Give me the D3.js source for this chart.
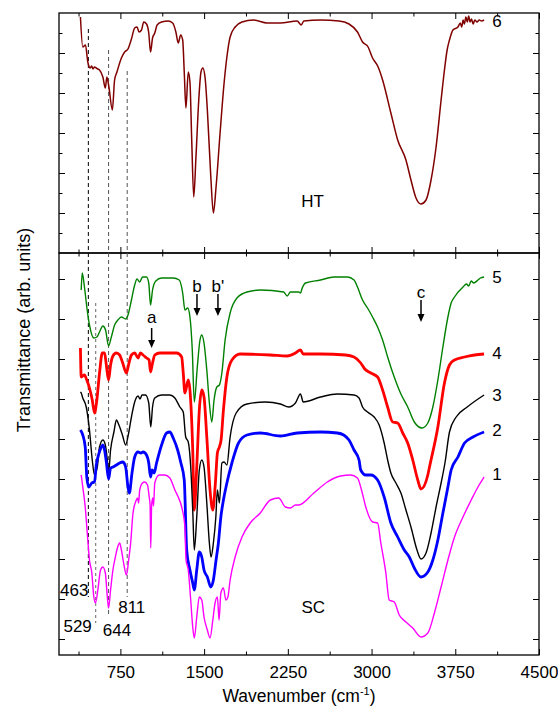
<!DOCTYPE html>
<html>
<head>
<meta charset="utf-8">
<script src="https://cdn.jsdelivr.net/npm/d3@7/dist/d3.min.js"></script>
<style>
  body { margin: 0; background: #fff; }
  text { font-family: Arial, "Liberation Sans", sans-serif; fill: #000; }
</style>
</head>
<body>
<div id="chart"></div>
<script>
// chart data: [wavenumber, transmittance (arb. units)]
// top panel (HT)
var spec6 = [[392,236],[413,206],[437,208],[458,191],[480,185],[492,187],[505,184],[518,186],[534,185],[548,184],[563,183],[593,176],[615,165],[629,176],[647,166],[678,143],[698,173],[719,181],[759,195],[788,201],[818,204],[849,214],[878,225],[899,226],[917,221],[939,223],[959,231],[984,229],[1004,220],[1020,201],[1038,215],[1058,220],[1079,228],[1119,231],[1178,232],[1218,230],[1247,221],[1268,210],[1290,218],[1308,213],[1322,181],[1337,145],[1358,181],[1373,171],[1389,113],[1407,56],[1427,96],[1452,153],[1472,181],[1488,185],[1508,176],[1529,143],[1560,76],[1583,40],[1607,66],[1643,120],[1679,170],[1704,196],[1733,216],[1778,226],[1839,231],[1943,233],[2064,230],[2183,230],[2334,232],[2370,228],[2393,232],[2543,233],[2708,232],[2798,229],[2874,221],[2919,211],[2969,206],[3009,195],[3059,186],[3099,173],[3173,140],[3234,113],[3308,93],[3353,73],[3398,55],[3443,49],[3488,53],[3533,73],[3578,106],[3623,153],[3653,183],[3677,203],[3698,213],[3729,223],[3774,226],[3795,230],[3808,226],[3820,233],[3832,229],[3845,236],[3858,231],[3870,237],[3882,231],[3895,234],[3910,229],[3925,233],[3945,231],[3965,233],[3985,232],[4008,233]];

// bottom panel (SC)
var spec5 = [[399,365],[408,382],[428,368],[449,348],[473,330],[512,317],[539,318],[563,323],[593,329],[617,325],[644,309],[669,318],[698,330],[728,335],[759,338],[797,336],[818,340],[849,355],[878,370],[899,376],[923,373],[948,378],[984,378],[1004,372],[1020,350],[1038,365],[1067,374],[1119,377],[1223,377],[1277,375],[1308,362],[1328,345],[1353,347],[1373,338],[1394,305],[1412,253],[1439,288],[1463,315],[1479,320],[1499,312],[1524,285],[1547,252],[1569,233],[1589,255],[1614,268],[1637,270],[1659,282],[1688,315],[1733,342],[1794,357],[1884,363],[2003,365],[2213,363],[2244,359],[2273,363],[2348,363],[2363,362],[2379,367],[2408,372],[2543,375],[2663,378],[2784,378],[2843,375],[2874,368],[2919,355],[2964,347],[3009,338],[3054,328],[3099,315],[3144,298],[3203,278],[3263,261],[3324,248],[3383,233],[3452,227],[3504,232],[3549,248],[3594,275],[3639,308],[3684,338],[3713,352],[3743,358],[3819,368],[3850,371],[3870,369],[3893,374],[3915,372],[3953,375],[3975,377],[4008,378]];

var spec4 = [[392,307],[399,278],[428,280],[449,275],[473,267],[498,255],[518,242],[539,255],[563,282],[588,302],[608,302],[624,290],[644,275],[662,290],[683,299],[714,302],[743,300],[768,293],[804,282],[827,292],[849,300],[878,302],[908,297],[930,302],[953,300],[984,297],[1007,295],[1020,283],[1038,292],[1058,300],[1103,302],[1254,302],[1299,298],[1313,282],[1328,262],[1358,275],[1373,265],[1398,205],[1412,145],[1434,188],[1457,245],[1479,265],[1499,258],[1524,218],[1553,165],[1578,145],[1601,172],[1619,202],[1637,208],[1652,215],[1673,245],[1704,278],[1749,295],[1823,301],[2093,300],[2244,299],[2318,302],[2363,305],[2388,301],[2543,301],[2768,300],[2843,298],[2903,292],[2939,286],[2993,282],[3054,278],[3099,265],[3144,248],[3189,233],[3234,232],[3279,222],[3324,212],[3369,195],[3414,175],[3443,166],[3504,180],[3519,188],[3594,228],[3653,272],[3698,290],[3743,295],[3833,298],[3923,300],[4008,301]];

var spec3 = [[392,263],[399,262],[413,257],[444,248],[473,225],[498,195],[518,180],[543,188],[563,208],[593,215],[615,210],[633,195],[644,182],[662,205],[692,223],[714,235],[737,230],[768,220],[797,210],[824,222],[849,238],[878,253],[908,259],[926,256],[944,260],[975,260],[1004,252],[1022,228],[1038,248],[1058,257],[1119,260],[1193,260],[1238,257],[1283,248],[1313,243],[1335,218],[1358,213],[1380,188],[1398,145],[1412,105],[1434,138],[1457,185],[1479,195],[1499,188],[1524,152],[1547,112],[1562,98],[1583,112],[1605,138],[1619,165],[1637,152],[1659,192],[1679,193],[1704,190],[1733,218],[1787,242],[1884,251],[2048,253],[2183,251],[2258,248],[2318,252],[2363,261],[2388,253],[2543,258],[2694,261],[2843,260],[2888,257],[2919,248],[2964,243],[3023,238],[3068,230],[3113,212],[3144,195],[3173,182],[3218,172],[3263,162],[3308,145],[3353,128],[3407,105],[3443,96],[3488,102],[3533,122],[3578,148],[3623,172],[3659,193],[3698,223],[3758,238],[3857,248],[4008,260]];

var spec2 = [[392,225],[413,220],[435,208],[449,178],[467,168],[494,172],[518,173],[534,190],[554,200],[579,208],[593,210],[608,205],[624,193],[644,176],[662,187],[683,188],[714,190],[743,192],[773,193],[797,188],[818,168],[830,162],[854,182],[878,198],[908,203],[932,202],[953,203],[984,200],[1004,192],[1020,178],[1034,185],[1052,182],[1074,192],[1119,210],[1164,222],[1193,223],[1223,217],[1263,205],[1292,192],[1322,175],[1344,105],[1373,85],[1398,72],[1412,65],[1434,85],[1457,103],[1479,98],[1499,85],[1529,78],[1560,68],[1583,75],[1607,95],[1628,112],[1650,138],[1673,155],[1704,172],[1749,192],[1808,212],[1884,220],[2003,222],[2183,219],[2334,222],[2543,223],[2694,222],[2750,220],[2798,215],[2843,205],[2888,195],[2903,185],[2948,180],[2993,180],[3054,175],[3113,158],[3173,132],[3234,118],[3293,105],[3338,98],[3383,87],[3443,78],[3504,83],[3549,95],[3594,115],[3639,142],[3684,168],[3713,185],[3774,198],[3833,212],[3909,218],[4008,223]];

var spec1 = [[399,180],[413,168],[435,148],[453,122],[458,115],[473,95],[494,82],[512,58],[527,52],[548,65],[572,85],[593,88],[615,82],[633,58],[644,47],[662,65],[683,85],[705,98],[723,107],[743,112],[759,105],[782,90],[804,80],[824,95],[842,112],[863,142],[893,155],[903,157],[913,152],[923,165],[948,172],[968,173],[993,170],[1008,158],[1016,150],[1022,107],[1030,150],[1040,157],[1047,149],[1058,172],[1097,180],[1148,180],[1193,177],[1238,165],[1268,158],[1299,148],[1328,128],[1338,95],[1358,85],[1380,55],[1398,28],[1412,17],[1434,38],[1457,58],[1479,55],[1499,38],[1529,25],[1553,17],[1578,35],[1598,52],[1619,58],[1634,35],[1650,62],[1673,67],[1695,55],[1713,58],[1733,75],[1778,98],[1839,118],[1913,132],[2003,142],[2093,155],[2168,157],[2228,148],[2273,147],[2318,150],[2348,150],[2483,162],[2604,173],[2723,179],[2813,180],[2874,177],[2910,165],[2948,148],[3009,133],[3054,132],[3083,112],[3128,82],[3158,55],[3203,53],[3248,40],[3308,33],[3369,27],[3443,18],[3504,22],[3563,42],[3623,68],[3684,95],[3743,118],[3819,138],[3893,155],[3953,168],[4008,178]];

var topSeries = [{name: "6", data: spec6, color: "#800000", width: 1.5}];
var bottomSeries = [
  {name: "5", data: spec5, color: "#008000", width: 1.4},
  {name: "4", data: spec4, color: "#ff0000", width: 2.8},
  {name: "3", data: spec3, color: "#000000", width: 1.4},
  {name: "2", data: spec2, color: "#0000ff", width: 2.8},
  {name: "1", data: spec1, color: "#ff00ff", width: 1.4}
];

// curve number labels [text, wavenumber, value]
var topLabels = [["6", 4124, 226], ["HT", 2471, 46]];
var bottomLabels = [["5", 4124, 372], ["4", 4124, 296], ["3", 4124, 254], ["2", 4124, 219], ["1", 4124, 175], ["SC", 2478, 42]];

// band markers (dashed): wavenumber, top-panel start (null = bottom only), bottom end
var bandLines = [
  {wn: 463, top: 224, bottomStart: null, bottomEnd: 58, color: "#000", dash: "4,3"},
  {wn: 529, top: null, bottomStart: 352, bottomEnd: 32, color: "#666", dash: "3,3"},
  {wn: 644, top: 203, bottomStart: null, bottomEnd: 38, color: "#555", dash: "4,3"},
  {wn: 811, top: 182, bottomStart: null, bottomEnd: 58, color: "#555", dash: "4,3"}
];
var bandLabels = [["463", 337, 59], ["529", 367, 23], ["644", 720, 19], ["811", 852, 42]];

// arrows: label, wavenumber, label baseline, arrow start, arrow tip (bottom panel units)
var arrows = [["a", 1030, 332, 327, 307], ["b", 1436, 363, 361, 339], ["b'", 1624, 363, 361, 339], ["c", 3443, 357, 355, 333]];

var xDomain = [200, 4500];
var xMajor = [750, 1500, 2250, 3000, 3750, 4500];
var xMinor = [375, 1125, 1875, 2625, 3375, 4125];
var topMajor = [40, 80, 120, 160, 200];
var topMinor = [20, 60, 100, 140, 180, 220];
var bottomTicks = [16, 56, 96, 136, 176, 216, 256, 296, 336, 376];

var svgWidth = 558, svgHeight = 715;
var margin = {top: 13, left: 59};
var width = 480;
var topH = 240, botH = 402;

var svg = d3.select("#chart").append("svg")
  .attr("width", svgWidth)
  .attr("height", svgHeight);

var chartGroup = svg.append("g")
  .attr("transform", `translate(${margin.left}, ${margin.top})`);

var x = d3.scaleLinear().domain(xDomain).range([0, width]);
var yTop = d3.scaleLinear().domain([0, topH]).range([topH, 0]);
var yBot = d3.scaleLinear().domain([0, botH]).range([topH + botH, topH]);

// axes helper: draws ticks only, frame drawn separately
function ticks(axis, tx, ty, withLabels) {
  var g = chartGroup.append("g")
    .attr("transform", `translate(${tx}, ${ty})`)
    .call(axis);
  g.select(".domain").remove();
  g.selectAll("line").attr("stroke", "#000").attr("stroke-width", 1);
  if (withLabels) {
    g.selectAll("text").attr("font-size", "17px").attr("fill", "#000")
      .attr("font-family", "Arial, 'Liberation Sans', sans-serif");
  }
  return g;
}
var noLab = () => "";

// x ticks, all edges, pointing inward
ticks(d3.axisTop(x).tickValues(xMajor).tickSize(-6).tickFormat(noLab), 0, 0);
ticks(d3.axisTop(x).tickValues(xMinor).tickSize(-3.5).tickFormat(noLab), 0, 0);
ticks(d3.axisBottom(x).tickValues(xMajor).tickSize(-6).tickFormat(noLab), 0, topH);
ticks(d3.axisBottom(x).tickValues(xMinor).tickSize(-3.5).tickFormat(noLab), 0, topH);
ticks(d3.axisTop(x).tickValues(xMajor).tickSize(-6).tickFormat(noLab), 0, topH);
ticks(d3.axisTop(x).tickValues(xMinor).tickSize(-3.5).tickFormat(noLab), 0, topH);
ticks(d3.axisBottom(x).tickValues(xMajor).tickSize(-6).tickPadding(11).tickFormat(d3.format("d")), 0, topH + botH, true);
ticks(d3.axisBottom(x).tickValues(xMinor).tickSize(-3.5).tickFormat(noLab), 0, topH + botH);

// y ticks
ticks(d3.axisLeft(yTop).tickValues(topMajor).tickSize(-6).tickFormat(noLab), 0, 0);
ticks(d3.axisLeft(yTop).tickValues(topMinor).tickSize(-3.5).tickFormat(noLab), 0, 0);
ticks(d3.axisRight(yTop).tickValues(topMajor).tickSize(-6).tickFormat(noLab), width, 0);
ticks(d3.axisRight(yTop).tickValues(topMinor).tickSize(-3.5).tickFormat(noLab), width, 0);
ticks(d3.axisLeft(yBot).tickValues(bottomTicks).tickSize(-6).tickFormat(noLab), 0, 0);
ticks(d3.axisRight(yBot).tickValues(bottomTicks).tickSize(-6).tickFormat(noLab), width, 0);

// frames
chartGroup.append("rect").attr("x", 0).attr("y", 0).attr("width", width).attr("height", topH)
  .attr("fill", "none").attr("stroke", "#000").attr("stroke-width", 1.3);
chartGroup.append("rect").attr("x", 0).attr("y", topH).attr("width", width).attr("height", botH)
  .attr("fill", "none").attr("stroke", "#000").attr("stroke-width", 1.3);

// dashed band lines
bandLines.forEach(function(b) {
  var y1 = b.top !== null ? yTop(b.top) : yBot(b.bottomStart);
  chartGroup.append("line")
    .attr("x1", x(b.wn)).attr("x2", x(b.wn))
    .attr("y1", y1).attr("y2", yBot(b.bottomEnd))
    .attr("stroke", b.color).attr("stroke-width", 1)
    .attr("stroke-dasharray", b.dash);
});

// spectra
function lineFor(yScale) {
  return d3.line()
    .x(d => x(d[0]))
    .y(d => yScale(d[1]))
    .curve(d3.curveMonotoneX);
}

chartGroup.selectAll(".top-line")
  .data(topSeries)
  .enter()
  .append("path")
  .attr("d", d => lineFor(yTop)(d.data))
  .attr("fill", "none")
  .attr("stroke", d => d.color)
  .attr("stroke-width", d => d.width)
  .attr("stroke-linejoin", "round");

chartGroup.selectAll(".bottom-line")
  .data(bottomSeries)
  .enter()
  .append("path")
  .attr("d", d => lineFor(yBot)(d.data))
  .attr("fill", "none")
  .attr("stroke", d => d.color)
  .attr("stroke-width", d => d.width)
  .attr("stroke-linejoin", "round");

// labels
topLabels.forEach(function(l) {
  chartGroup.append("text").attr("x", x(l[1])).attr("y", yTop(l[2]))
    .attr("text-anchor", "middle").attr("font-size", "17px").text(l[0]);
});
bottomLabels.forEach(function(l) {
  chartGroup.append("text").attr("x", x(l[1])).attr("y", yBot(l[2]))
    .attr("text-anchor", "middle").attr("font-size", "17px").text(l[0]);
});
bandLabels.forEach(function(l) {
  chartGroup.append("text").attr("x", x(l[1])).attr("y", yBot(l[2]))
    .attr("text-anchor", "middle").attr("font-size", "17px").text(l[0]);
});

// arrows
arrows.forEach(function(a) {
  var ax = x(a[1]);
  chartGroup.append("text").attr("x", ax).attr("y", yBot(a[2]))
    .attr("text-anchor", "middle").attr("font-size", "17px").text(a[0]);
  var y0 = yBot(a[3]), y1 = yBot(a[4]);
  chartGroup.append("line").attr("x1", ax).attr("x2", ax)
    .attr("y1", y0).attr("y2", y1 - 6)
    .attr("stroke", "#000").attr("stroke-width", 1.5);
  chartGroup.append("path")
    .attr("d", `M${ax - 3.5},${y1 - 8}L${ax + 3.5},${y1 - 8}L${ax},${y1}Z`)
    .attr("fill", "#000");
});

// axis titles
svg.append("text")
  .attr("transform", "translate(30, 330) rotate(-90)")
  .attr("text-anchor", "middle")
  .attr("font-size", "18px")
  .text("Transmittance (arb. units)");

var xt = svg.append("text")
  .attr("x", margin.left + width / 2)
  .attr("y", 702)
  .attr("text-anchor", "middle")
  .attr("font-size", "17.5px");
xt.append("tspan").text("Wavenumber (cm");
xt.append("tspan").attr("font-size", "11px").attr("dy", "-7").text("-1");
xt.append("tspan").attr("dy", "7").text(")");
</script>
</body>
</html>
